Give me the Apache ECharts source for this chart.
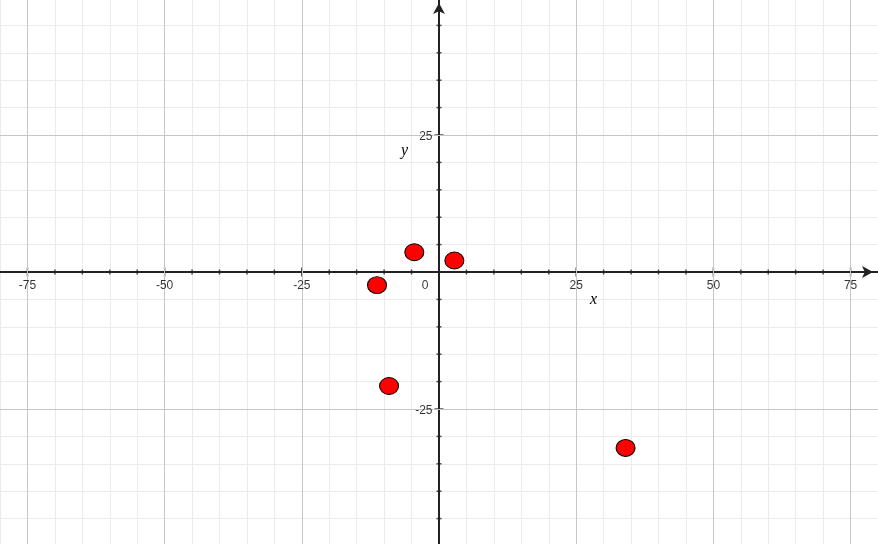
<!DOCTYPE html>
<html><head><meta charset="utf-8">
<script src="https://cdn.jsdelivr.net/npm/echarts@6/dist/echarts.min.js"></script>
<style>html,body{margin:0;padding:0;background:#fff}#c{width:878px;height:544px}</style>
</head><body><div id="c"></div>
<script>
// data points
const pointsX = [-4.5, 2.8, -11.3, -9.1, 34.0];
const pointsY = [3.6, 2.1, -2.4, -20.8, -32.1];
// tick labels
const xLabelValues = [-75, -50, -25, 0, 25, 50, 75];
const yLabelValues = [-25, 25];
// tick marks / major grid lines
const xMajorTicks = [-75, -50, -25, 25, 50, 75];
const yMajorTicks = [-25, 25];
const xMinorTicks = [-70, -65, -60, -55, -45, -40, -35, -30, -20, -15, -10, -5, 5, 10, 15, 20, 30, 35, 40, 45, 55, 60, 65, 70];
const yMinorTicks = [-45, -40, -35, -30, -20, -15, -10, -5, 5, 10, 15, 20, 30, 35, 40, 45];

const AX = '#222';
const FONT = 'Liberation Sans, Arial, sans-serif';
const chart = echarts.init(document.getElementById('c'), null, {renderer: 'canvas'});

const axisLineMain = (arrowOffset) => ({
  show: true, onZero: true,
  symbol: ['none', 'arrow'], symbolSize: [9, 11], symbolOffset: [0, arrowOffset],
  lineStyle: {color: AX, width: 2}
});

const labelStyle = {color: '#000', fontSize: 12, fontFamily: FONT};

chart.setOption({
  animation: false,
  backgroundColor: '#fff',
  grid: {left: 0, right: 0, top: -2, bottom: -2, containLabel: false, outerBoundsMode: 'none'},
  xAxis: {
    type: 'value', min: -80, max: 80, interval: 5, z: 1,
    axisLine: axisLineMain(-5),
    axisTick: {show: false},
    axisLabel: {show: false},
    splitLine: {show: true, lineStyle: {color: '#ebebeb', width: 1}}
  },
  yAxis: {
    type: 'value', min: -50, max: 50, interval: 5, z: 1,
    axisLine: axisLineMain(-5),
    axisTick: {show: false},
    axisLabel: {show: false},
    splitLine: {show: true, lineStyle: {color: '#ebebeb', width: 1}}
  },
  graphic: [
    {type: 'text', left: 590, top: 292, z: 10, style: {text: 'x', font: 'italic 16px "Liberation Serif", serif', fill: '#000'}},
    {type: 'text', left: 401, top: 143, z: 10, style: {text: 'y', font: 'italic 16px "Liberation Serif", serif', fill: '#000'}}
  ],
  series: [
    {
      type: 'line', name: 'majorGrid', z: 2, silent: true, data: [],
      markLine: {
        silent: true, symbol: 'none', animation: false, label: {show: false},
        lineStyle: {color: '#c6c6c6', width: 1, type: 'solid'},
        emphasis: {disabled: true},
        data: xMajorTicks.map(v => ({xAxis: v})).concat(yMajorTicks.map(v => ({yAxis: v})))
      }
    },
    {
      type: 'scatter', name: 'xMinorTicks', z: 3, silent: true,
      symbol: 'rect', symbolSize: [1.5, 5], itemStyle: {color: AX},
      data: xMinorTicks.map(v => [v, 0])
    },
    {
      type: 'scatter', name: 'xMajorTicks', z: 3, silent: true,
      symbol: 'rect', symbolSize: [1.5, 9], itemStyle: {color: AX},
      data: xMajorTicks.map(v => [v, 0])
    },
    {
      type: 'scatter', name: 'yMinorTicks', z: 3, silent: true,
      symbol: 'rect', symbolSize: [5, 1.5], itemStyle: {color: AX},
      data: yMinorTicks.map(v => [0, v])
    },
    {
      type: 'scatter', name: 'yMajorTicks', z: 3, silent: true,
      symbol: 'rect', symbolSize: [9, 1.5], itemStyle: {color: AX},
      data: yMajorTicks.map(v => [0, v])
    },
    {
      type: 'scatter', name: 'xTickLabels', z: 5, silent: true,
      symbol: 'circle', symbolSize: 1, itemStyle: {color: 'rgba(0,0,0,0)'},
      label: Object.assign({show: true, position: 'bottom', distance: 7, formatter: p => String(p.value[0])}, labelStyle),
      data: xLabelValues.map(v => v === 0 ? {value: [v, 0], label: {offset: [-14, 0]}} : [v, 0])
    },
    {
      type: 'scatter', name: 'yTickLabels', z: 5, silent: true,
      symbol: 'circle', symbolSize: 1, itemStyle: {color: 'rgba(0,0,0,0)'},
      label: Object.assign({show: true, position: 'left', distance: 6, offset: [0, 2], formatter: p => String(p.value[1])}, labelStyle),
      data: yLabelValues.map(v => [0, v])
    },
    {
      type: 'scatter', name: 'points', z: 4,
      symbol: 'circle', symbolSize: [19, 17],
      itemStyle: {color: '#ff0000', borderColor: '#000', borderWidth: 1, opacity: 1},
      data: pointsX.map((x, i) => [x, pointsY[i]])
    }
  ]
});
</script>
</body></html>
